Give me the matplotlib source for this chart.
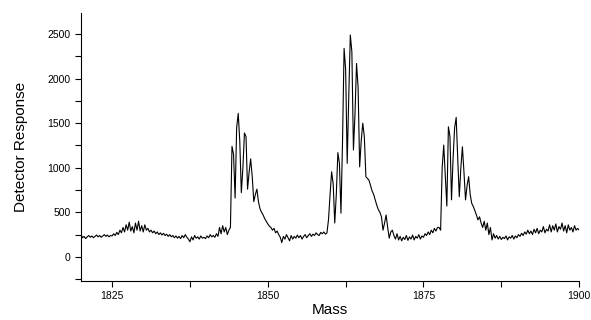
import numpy as np
import matplotlib.pyplot as plt
from matplotlib.ticker import MultipleLocator

# mass axis, one reading every 0.25 Da
mass = np.arange(1820.0, 1900.01, 0.25)

# detector response, 20 readings (5 Da) per row
response = [
    250, 215, 230, 205, 225, 240, 220, 235, 215, 230, 245, 225, 240, 220, 235, 250, 230, 245, 225, 240,
    235, 260, 240, 275, 250, 300, 270, 330, 280, 360, 300, 390, 290, 340, 270, 380, 300, 400, 290, 350,
    280, 360, 300, 320, 280, 300, 270, 290, 260, 280, 250, 270, 245, 265, 240, 255, 230, 250, 225, 240,
    215, 235, 210, 230, 205, 240, 215, 250, 220, 200, 170, 225, 190, 240, 210, 225, 200, 235, 210, 220,
    205, 235, 215, 250, 225, 240, 220, 260, 230, 330, 260, 350, 280, 330, 250, 300, 330, 1240, 1150, 660,
    1450, 1610, 1300, 720, 1000, 1390, 1350, 760, 950, 1100, 900, 620, 700, 760, 620, 540, 500, 470, 430, 400,
    370, 345, 330, 300, 320, 270, 290, 250, 220, 160, 230, 200, 250, 215, 180, 240, 200, 230, 210, 245,
    215, 240, 200, 230, 250, 215, 240, 260, 230, 255, 240, 270, 250, 240, 275, 260, 280, 255, 270, 420,
    700, 955, 820, 380, 700, 1170, 1050, 490, 1300, 2340, 2100, 1050, 1800, 2490, 2300, 1200, 1600, 2170, 1900, 1010,
    1300, 1500, 1350, 900, 880, 860, 800, 740, 700, 640, 580, 530, 500, 450, 300, 380, 470, 330, 210, 280,
    300, 240, 200, 260, 190, 230, 180, 220, 195, 240, 185, 225, 200, 245, 190, 230, 210, 250, 200, 235,
    220, 260, 240, 280, 250, 300, 270, 320, 290, 330, 330, 300, 1000, 1255, 900, 570, 1460, 1350, 640, 1100,
    1450, 1565, 1100, 675, 1000, 1235, 950, 640, 800, 900, 700, 600, 565, 520, 470, 415, 450, 380, 330, 400,
    300, 380, 250, 330, 190, 260, 210, 240, 200, 230, 195, 220, 205, 235, 190, 225, 210, 240, 200, 235,
    215, 250, 230, 265, 240, 280, 255, 300, 260, 290, 250, 310, 270, 320, 260, 300, 280, 340, 270, 310,
    290, 360, 280, 350, 300, 370, 280, 340, 310, 380, 290, 350, 270, 360, 300, 330, 280, 350, 300, 320,
    300,
]

x_ticks = [1825, 1850, 1875, 1900]
y_ticks = [0, 500, 1000, 1500, 2000, 2500]

plt.rcParams['font.family'] = ['Liberation Sans', 'DejaVu Sans']

fig = plt.figure(figsize=(5.91, 3.2), dpi=100)
ax = fig.add_axes([0.137, 0.122, 0.843, 0.837])

ax.plot(mass, response, color='black', linewidth=0.8)

ax.set_xlim(1820, 1900)
ax.set_ylim(-270, 2735)
ax.set_xticks(x_ticks)
ax.set_yticks(y_ticks)
ax.xaxis.set_minor_locator(MultipleLocator(12.5))
ax.yaxis.set_minor_locator(MultipleLocator(250))

ax.spines['top'].set_visible(False)
ax.spines['right'].set_visible(False)
ax.tick_params(axis='both', which='both', direction='out', length=4, width=0.8,
               labelsize=7.5, colors='black')

ax.set_xlabel('Mass', fontsize=11, labelpad=1)
ax.set_ylabel('Detector Response', fontsize=11, labelpad=14)

fig.savefig('out.png', dpi=100)
